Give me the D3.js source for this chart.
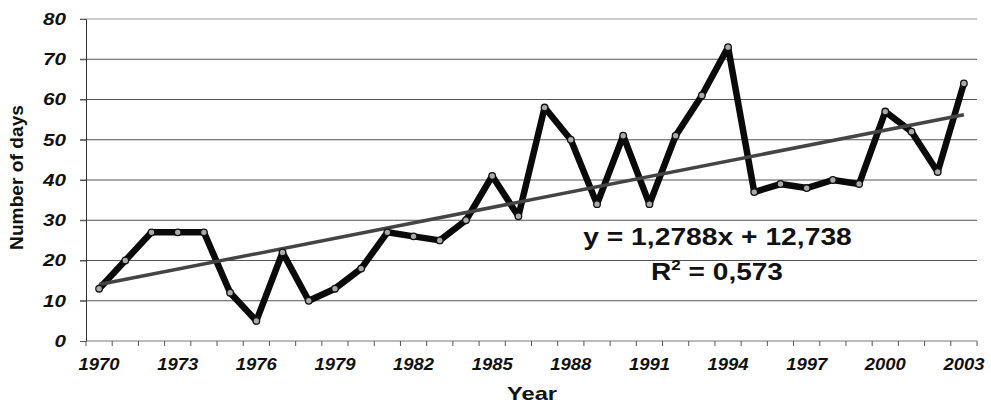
<!DOCTYPE html>
<html>
<head>
<meta charset="utf-8">
<script src="https://cdn.jsdelivr.net/npm/d3@7"></script>
<style>
body{margin:0;background:#fff;}
svg text{font-family:"Liberation Sans",Arial,sans-serif;font-weight:bold;fill:#111;}
</style>
</head>
<body>
<div id="chart"></div>
<script>
var years = d3.range(1970, 2004);
var days = [13,20,27,27,27,12,5,22,10,13,18,27,26,25,30,41,31,58,50,34,51,34,51,61,73,37,39,38,40,39,57,52,42,64];
var yTicks = [0,10,20,30,40,50,60,70,80];
var trendSlope = 1.2788, trendIntercept = 12.738;
var eqText = "y = 1,2788x + 12,738";
var r2Text = "0,573";

const W = 991, H = 403;
const plotLeft = 86, plotRight = 977, plotTop = 19, plotBottom = 341;

var svg = d3.select("#chart").append("svg").attr("width", W).attr("height", H);

var x = d3.scaleBand().domain(years).range([plotLeft, plotRight]);
var y = d3.scaleLinear().domain([0, 80]).range([plotBottom, plotTop]);

// stretch a text horizontally to a given width, keeping its anchor point
function fitWidth(t, ax, ay, target) {
  var w = t.node().getBBox().width;
  t.attr("x", 0).attr("y", 0)
   .attr("transform", "translate(" + ax + "," + ay + ") scale(" + (target / w) + ",1)");
}

// gridlines
svg.append("g").selectAll("line")
  .data(yTicks.filter(d => d > 0))
  .enter().append("line")
  .attr("x1", plotLeft - 6).attr("x2", plotRight)
  .attr("y1", d => y(d)).attr("y2", d => y(d))
  .attr("stroke", d => d == 80 ? "#999" : "#555")
  .attr("stroke-width", 1.2);

// y axis
var yAxis = svg.append("g").attr("transform", "translate(" + plotLeft + ",0)")
  .call(d3.axisLeft(y).tickValues(yTicks).tickSize(6).tickPadding(14));
yAxis.select(".domain").attr("stroke", "#333");
yAxis.selectAll(".tick line").attr("stroke", "#555");
yAxis.selectAll("text").style("font-size", "17px").style("font-style", "italic")
  .attr("textLength", d => String(d).length * 11.5).attr("lengthAdjust", "spacingAndGlyphs");

// x axis
var xAxis = svg.append("g").attr("transform", "translate(0," + plotBottom + ")")
  .call(d3.axisBottom(x).tickSize(0).tickFormat(d => (d - 1970) % 3 == 0 ? d : ""));
xAxis.select(".domain").attr("stroke", "#777").attr("d", "M" + plotLeft + ",0H" + plotRight);
xAxis.selectAll("text").attr("dy", 0).attr("y", 29).style("font-size", "16px").style("font-style", "italic")
  .attr("textLength", 41).attr("lengthAdjust", "spacingAndGlyphs");
svg.append("g").selectAll("line")
  .data(years.concat([2004]))
  .enter().append("line")
  .attr("x1", d => plotLeft + (d - 1970) * x.bandwidth())
  .attr("x2", d => plotLeft + (d - 1970) * x.bandwidth())
  .attr("y1", plotBottom).attr("y2", plotBottom + 5)
  .attr("stroke", "#555");

// data line
var line = d3.line().x((d, i) => x(years[i]) + x.bandwidth() / 2).y(d => y(d));
svg.append("path").datum(days)
  .attr("d", line).attr("fill", "none")
  .attr("stroke", "#0a0a0a").attr("stroke-width", 6.5).attr("stroke-linejoin", "round");

// trend line
var n = years.length;
svg.append("line")
  .attr("x1", x(years[0]) + x.bandwidth() / 2).attr("y1", y(trendSlope * 1 + trendIntercept))
  .attr("x2", x(years[n - 1]) + x.bandwidth() / 2).attr("y2", y(trendSlope * n + trendIntercept))
  .attr("stroke", "#444").attr("stroke-width", 3.5);

// markers
svg.append("g").selectAll("circle")
  .data(days).enter().append("circle")
  .attr("cx", (d, i) => x(years[i]) + x.bandwidth() / 2)
  .attr("cy", d => y(d)).attr("r", 3.3)
  .attr("fill", "#aaa").attr("stroke", "#111").attr("stroke-width", 1.3);

// equation
var eq = svg.append("text").attr("text-anchor", "middle")
  .style("font-size", "23px").text(eqText);
fitWidth(eq, 717.5, 245, 269);
var r2 = svg.append("text").attr("text-anchor", "middle")
  .style("font-size", "23px");
r2.append("tspan").text("R");
r2.append("tspan").attr("dy", -10).style("font-size", "14px").text("2");
r2.append("tspan").attr("dy", 10).text(" = " + r2Text);
fitWidth(r2, 717, 280, 132);

// axis titles
var xt = svg.append("text").attr("text-anchor", "middle")
  .style("font-size", "18px").text("Year");
fitWidth(xt, 532, 400, 50);
var yt = svg.append("text").attr("text-anchor", "middle")
  .style("font-size", "18px").text("Number of days");
var ytw = yt.node().getBBox().width;
yt.attr("transform", "translate(23,177.5) rotate(-90) scale(" + (145 / ytw) + ",1)");
</script>
</body>
</html>
